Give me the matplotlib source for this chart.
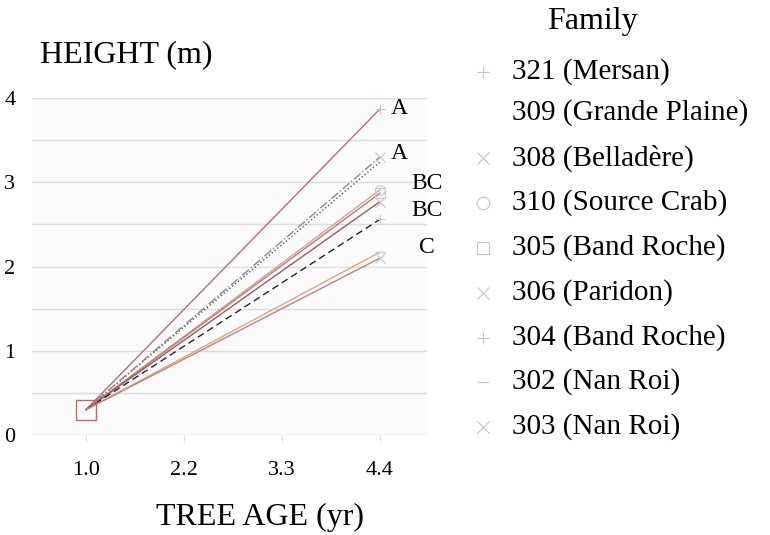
import numpy as np
import matplotlib
matplotlib.use("Agg")
import matplotlib.pyplot as plt
from matplotlib.lines import Line2D

plt.rcParams['font.family'] = ['Liberation Serif', 'DejaVu Serif']

# data
ages = ["1.0", "2.2", "3.3", "4.4"]
families = ["321 (Mersan)", "309 (Grande Plaine)", "308 (Belladère)",
            "310 (Source Crab)", "305 (Band Roche)", "306 (Paridon)",
            "304 (Band Roche)", "302 (Nan Roi)", "303 (Nan Roi)"]
start_height = [0.30, 0.30, 0.30, 0.30, 0.30, 0.30, 0.30, 0.30, 0.30]
end_height = [3.87, 3.24, 3.30, 2.91, 2.87, 2.77, 2.56, 2.17, 2.10]
groups = ["A", "A", "BC", "BC", "C"]
group_y = [3.88, 3.34, 2.98, 2.66, 2.23]
group_x = [3.2, 3.2, 3.48, 3.48, 3.48]

colors = ["#b86a78", "#555555", "#8a8a8a", "#d9a090", "#c07878",
          "#9a5a60", "#222222", "#d8a880", "#c08080"]
styles = ["-", ":", "-.", "-", "-", "-", (0, (5, 3)), "-", "-"]
markers = ["+", "", "x", "o", "s", "x", "+", "_", "x"]

fig = plt.figure(figsize=(7.7, 5.35), dpi=100)
ax = fig.add_axes([32 / 770, 100 / 535, 395 / 770, 337 / 535])
ax.set_facecolor("#fbfbfb")

for i in range(len(families)):
    ax.plot([0, 3], [start_height[i], end_height[i]], color=colors[i],
            linestyle=styles[i], lw=1.0)
    if markers[i]:
        ax.plot([3], [end_height[i]], marker=markers[i], color="#c8c8c8",
                ms=7, mew=0.8, mfc="none", linestyle="none")
ax.plot([0], [0.30], marker="s", ms=14, mfc="none", mec="#b07070", mew=1)

for g, gx, gy in zip(groups, group_x, group_y):
    ax.text(gx, gy, g, fontsize=17, ha="center", va="center", clip_on=False)

ax.set_xlim(-0.55, 3.48)
ax.set_ylim(0, 4)
ax.set_yticks(np.arange(0, 4.01, 0.5))
ax.set_yticklabels(["0", "", "1", "", "2", "", "3", "", "4"], fontsize=16)
ax.set_xticks(range(len(ages)))
ax.set_xticklabels(ages, fontsize=16)
ax.tick_params(axis="y", length=0, pad=12)
ax.tick_params(axis="x", length=5, color="#e0e0e0", pad=14)
ax.grid(axis="y", color="#dcdcdc", lw=1)
for s in ax.spines.values():
    s.set_visible(False)

fig.text(40 / 770, 1 - 55 / 535, "HEIGHT (m)", fontsize=23, va="center")
fig.text(260 / 770, 1 - 517 / 535, "TREE AGE (yr)", fontsize=23,
         ha="center", va="center")

# legend
fig.text(547 / 770, 1 - 22 / 535, "Family", fontsize=23, va="center")
ys = [72, 113, 158, 203, 248, 293, 338, 382, 427]
for i, yp in enumerate(ys):
    fig.text(512 / 770, 1 - yp / 535, families[i], fontsize=21, va="center")
    if markers[i]:
        fig.add_artist(Line2D([483 / 770], [1 - yp / 535], marker=markers[i],
                              color="#c4c4c4", ms=9, mew=0.8, mfc="none",
                              transform=fig.transFigure))

fig.savefig("out.png")
